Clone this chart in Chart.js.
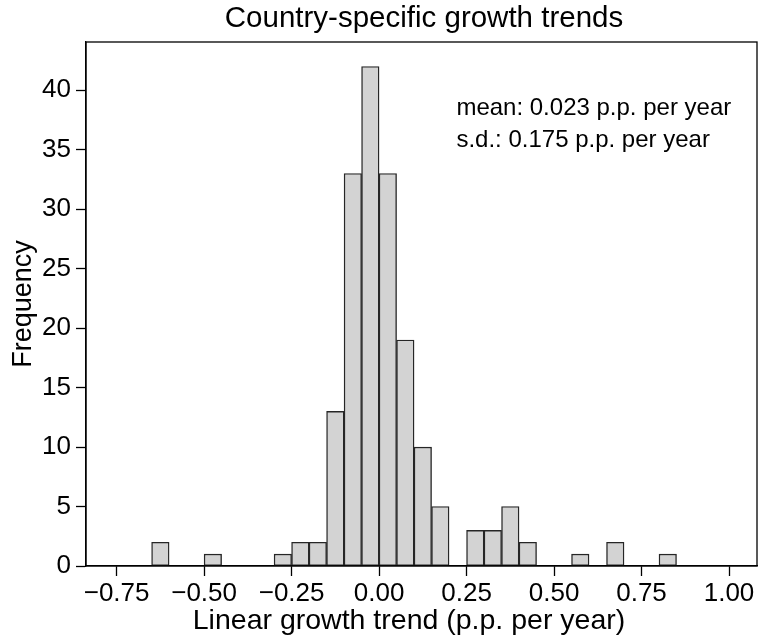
<!DOCTYPE html>
<html>
<head>
<meta charset="utf-8">
<script src="https://cdn.jsdelivr.net/npm/chart.js@4/dist/chart.umd.min.js"></script>
<style>
  html, body { margin: 0; padding: 0; background: #fff; }
  #wrap { width: 758px; height: 640px; }
</style>
</head>
<body>
<div id="wrap"><canvas id="histPlot"></canvas></div>
<script>
// histogram bins (left edge) and counts
const binWidth = 0.05
const binStarts = [-0.65, -0.50, -0.30, -0.25, -0.20, -0.15, -0.10, -0.05, 0.00, 0.05, 0.10, 0.15, 0.25, 0.30, 0.35, 0.40, 0.55, 0.65, 0.80]
const counts = [2, 1, 1, 2, 2, 13, 33, 42, 33, 19, 10, 5, 3, 3, 5, 2, 1, 2, 1]

const xTicks = [-0.75, -0.50, -0.25, 0.00, 0.25, 0.50, 0.75, 1.00]
const yTicks = [0, 5, 10, 15, 20, 25, 30, 35, 40]

const titleText = 'Country-specific growth trends'
const xTitle = 'Linear growth trend (p.p. per year)'
const yTitle = 'Frequency'
const statLines = ['mean: 0.023 p.p. per year', 's.d.: 0.175 p.p. per year']

const FONT = '"Liberation Sans", Arial, Helvetica, sans-serif'

const points = binStarts.map((s, i) => ({ x: s + binWidth / 2, y: counts[i] }))

const fmt = v => (v < 0 ? '\u2212' : '') + Math.abs(v).toFixed(2)

// frame, titles and the mean / s.d. note
const extras = {
    id: 'extras',
    afterDraw(chart) {
        const { ctx, chartArea: a } = chart
        ctx.save()
        ctx.strokeStyle = '#000'
        ctx.lineWidth = 1.3
        ctx.strokeRect(a.left, a.top, a.right - a.left, a.bottom - a.top)

        ctx.fillStyle = '#000'
        ctx.textAlign = 'center'
        ctx.textBaseline = 'middle'
        ctx.font = '29.5px ' + FONT
        ctx.fillText(titleText, 424, 19)

        ctx.font = '28.5px ' + FONT
        ctx.fillText(xTitle, 409, 621)

        const xs = chart.scales.x, ys = chart.scales.y
        ctx.font = '24px ' + FONT
        ctx.textAlign = 'left'
        ctx.fillText(statLines[0], xs.getPixelForValue(0.221), ys.getPixelForValue(38.45))
        ctx.fillText(statLines[1], xs.getPixelForValue(0.221), ys.getPixelForValue(35.75))
        ctx.restore()
    }
}

new Chart(document.getElementById('histPlot'), {
    type: 'bar',
    data: {
        datasets: [{
            data: points,
            backgroundColor: '#d3d3d3',
            borderColor: '#262626',
            borderWidth: 1.4,
            borderSkipped: false,
            barPercentage: 1,
            categoryPercentage: 1,
            grouped: false
        }]
    },
    options: {
        responsive: true,
        maintainAspectRatio: false,
        animation: false,
        layout: { padding: { top: 42, right: 1, left: 0, bottom: 0 } },
        plugins: {
            legend: { display: false },
            tooltip: { enabled: false }
        },
        scales: {
            x: {
                type: 'linear',
                offset: false,
                min: -0.8375,
                max: 1.08,
                afterBuildTicks: s => { s.ticks = xTicks.map(v => ({ value: v })) },
                afterFit: s => { s.height = 74 },
                ticks: {
                    callback: v => fmt(v),
                    color: '#000',
                    font: { family: FONT, size: 26 },
                    padding: 2,
                    maxRotation: 0,
                    autoSkip: false
                },
                grid: { offset: false, drawOnChartArea: false, drawTicks: true, tickLength: 10, tickColor: '#000', tickWidth: 1.3 },
                border: { display: true, color: '#000', width: 1.3 },
                title: { display: false }
            },
            y: {
                min: 0,
                max: 44.06,
                afterBuildTicks: s => { s.ticks = yTicks.map(v => ({ value: v })) },
                afterFit: s => { s.width = 86 },
                ticks: {
                    color: '#000',
                    font: { family: FONT, size: 26 },
                    padding: 5
                },
                grid: { drawOnChartArea: false, drawTicks: true, tickLength: 10, tickColor: '#000', tickWidth: 1.3 },
                border: { display: true, color: '#000', width: 1.3 },
                title: {
                    display: true,
                    text: yTitle,
                    color: '#000',
                    font: { family: FONT, size: 27, lineHeight: 1.2 },
                    padding: { top: 7, bottom: 0 }
                }
            }
        }
    },
    plugins: [extras]
})
</script>
</body>
</html>
